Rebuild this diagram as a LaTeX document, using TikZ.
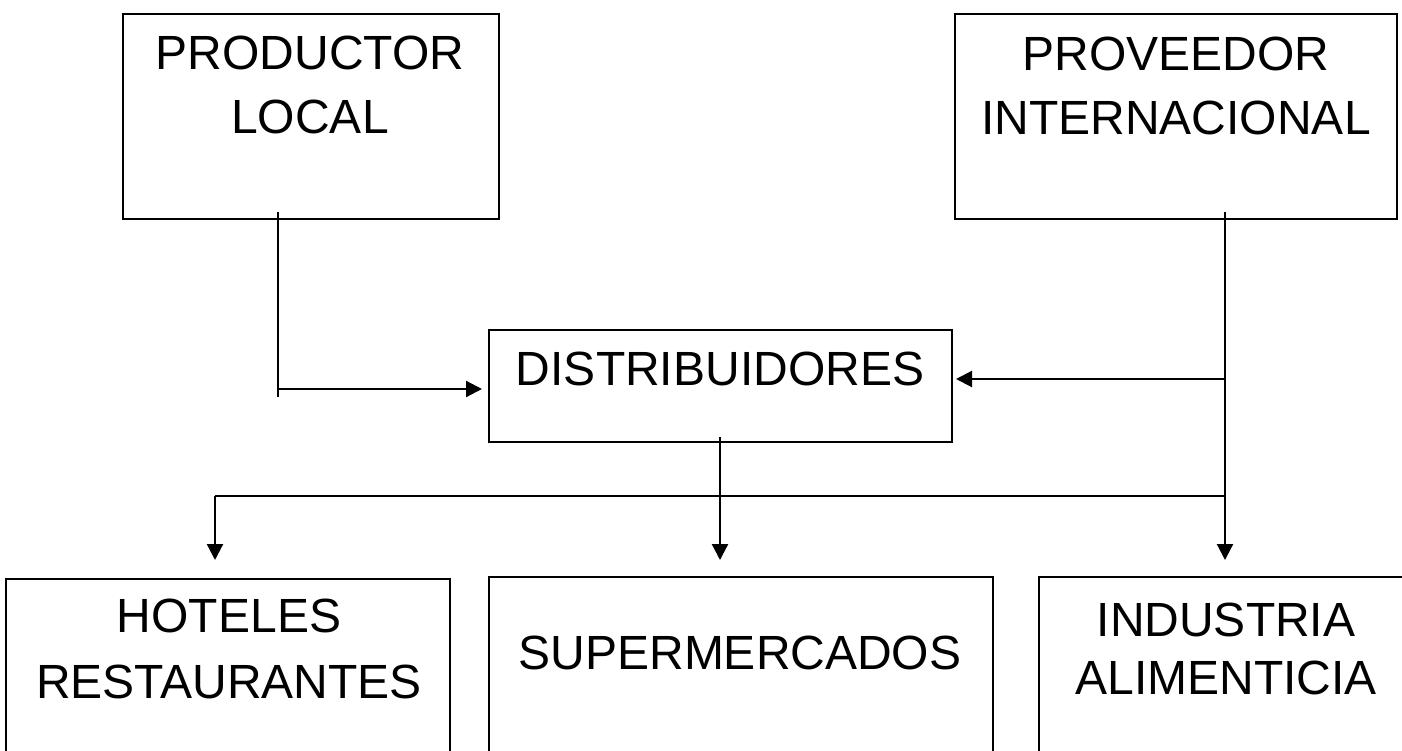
\documentclass[tikz,border=0pt]{standalone}
\usepackage{fontspec}
\setmainfont{Liberation Sans}
\usetikzlibrary{arrows.meta}
\begin{document}
\begin{tikzpicture}[x=0.5pt,y=-0.5pt,
  box/.style={draw=black, line width=1pt, inner sep=0pt, anchor=north west},
  lbl/.style={inner sep=0pt, anchor=north, align=center, font=\fontsize{24pt}{32pt}\selectfont},
  conn/.style={line width=1.1pt, draw=black},
  arr/.style={conn, -{Triangle[length=8pt,width=8pt]}}]
\useasboundingbox (0,0) rectangle (1402,750);
\clip (0,0) rectangle (1402,750);
% boxes
\node[box, minimum width=188pt, minimum height=102.5pt] (pl) at (122,13) {};
\node[box, minimum width=221pt, minimum height=102.5pt] (pi) at (954,13) {};
\node[box, minimum width=231.5pt, minimum height=56pt] (dist) at (488,329) {};
\node[box, minimum width=222pt, minimum height=100pt] (hot) at (5,578) {};
\node[box, minimum width=252pt, minimum height=100pt] (sup) at (488,576) {};
\node[box, minimum width=200pt, minimum height=100pt] (ind) at (1038,576) {};
% labels
\node[lbl] (tpl) at (310,36) {PRODUCTOR\\LOCAL};
\node[lbl] (tpi) at (1176,37) {PROVEEDOR\\INTERNACIONAL};
\node[lbl] (tdist) at (720,352) {DISTRIBUIDORES};
\node[lbl, font=\fontsize{24pt}{33pt}\selectfont] (thot) at (229,599) {HOTELES\\RESTAURANTES};
\node[lbl] (tsup) at (740,636) {SUPERMERCADOS};
\node[lbl, font=\fontsize{24pt}{29pt}\selectfont] (tind) at (1226,603) {INDUSTRIA\\ALIMENTICIA};
% connector coordinates
\coordinate (plA) at (278,212);
\coordinate (plB) at (278,397);
\coordinate (plJ) at (278,389);
\coordinate (distL) at (482,389);
\coordinate (piA) at (1225,212);
\coordinate (piJ) at (1225,379);
\coordinate (distR) at (956,379);
\coordinate (busR) at (1225,496);
\coordinate (busL) at (215,496);
\coordinate (indT) at (1225,560);
\coordinate (hotT) at (215,560);
\coordinate (distB) at (720,437);
\coordinate (supT) at (720,560);
% connectors
\draw[conn] (plA) -- (plB);
\draw[arr] (plJ) -- (distL);
\draw[arr] (piA) -- (indT);
\draw[arr] (piJ) -- (distR);
\draw[conn] (busR) -- (busL);
\draw[arr] (busL) -- (hotT);
\draw[arr] (distB) -- (supT);
\end{tikzpicture}
\end{document}
